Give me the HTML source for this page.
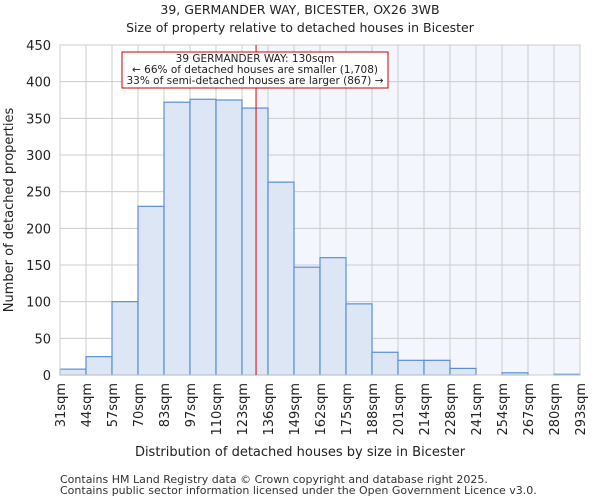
<!DOCTYPE html>
<html><head><meta charset="utf-8"><style>
body{margin:0;background:#fff;font-family:"DejaVu Sans","Liberation Sans",sans-serif;}
</style></head><body>
<svg id="c" width="600" height="500" xmlns="http://www.w3.org/2000/svg" font-family="DejaVu Sans, Liberation Sans, sans-serif">
<text x="300" y="14" text-anchor="middle" font-size="12.5" fill="#222">39, GERMANDER WAY, BICESTER, OX26 3WB</text>
<text x="300" y="32" text-anchor="middle" font-size="12.5" fill="#222">Size of property relative to detached houses in Bicester</text>
<g id="plot"></g>
<text x="300" y="456" text-anchor="middle" font-size="13" fill="#222">Distribution of detached houses by size in Bicester</text>
<text transform="translate(13,210) rotate(-90)" text-anchor="middle" font-size="13" fill="#222">Number of detached properties</text>
<text x="60" y="483" font-size="11" fill="#333">Contains HM Land Registry data © Crown copyright and database right 2025.</text>
<text x="60" y="494" font-size="11" fill="#333">Contains public sector information licensed under the Open Government Licence v3.0.</text>
</svg>
<script>
const binLabels=["31sqm","44sqm","57sqm","70sqm","83sqm","97sqm","110sqm","123sqm","136sqm","149sqm","162sqm","175sqm","188sqm","201sqm","214sqm","228sqm","241sqm","254sqm","267sqm","280sqm","293sqm"];
const counts=[8,25,100,230,372,376,375,364,263,147,160,97,31,20,20,9,0,3,0,1];
const yTicks=[0,50,100,150,200,250,300,350,400,450];
const markerBin=7.54;
const NS="http://www.w3.org/2000/svg";
const L=60,R=580,T=45,B=375,yMax=450;
const n=counts.length,bw=(R-L)/n;
const xs=i=>L+i*bw, ys=v=>B-(v/yMax)*(B-T);
const g=document.getElementById('plot');
function mk(t,a){const e=document.createElementNS(NS,t);for(const k in a)e.setAttribute(k,a[k]);g.appendChild(e);return e;}
const mx=xs(markerBin);
let e=mk('rect',{x:mx,y:T,width:R-mx,height:B-T,fill:'#f3f6fd'});


yTicks.forEach(t=>{let l=mk('line',{x1:L,x2:R,y1:ys(t),y2:ys(t),stroke:'#ccc'});


let tx=mk('text',{x:L-9,y:ys(t)+5,'text-anchor':'end','font-size':13,fill:'#222'});tx.textContent=t;

});
binLabels.forEach((s,i)=>{let l=mk('line',{x1:xs(i),x2:xs(i),y1:T,y2:B,stroke:'#ccc'});


let tx=mk('text',{transform:`translate(${xs(i)+5},${B+8}) rotate(-90)`,'text-anchor':'end','font-size':13,fill:'#222'});tx.textContent=s;

});
counts.forEach((v,i)=>{if(v<=0)return;let r=mk('rect',{x:xs(i),y:ys(v),width:bw,height:B-ys(v),fill:'#dce6f5',stroke:'#5a8fd6','stroke-width':1.2});

});
let ax=mk('rect',{x:L,y:T,width:R-L,height:B-T,fill:'none',stroke:'#ccc'});


let ml=mk('line',{x1:mx,x2:mx,y1:T,y2:B,stroke:'#d00','stroke-width':1});


let bx=mk('rect',{x:122,y:52,width:266,height:36,fill:'#fff',stroke:'#c00'});


["39 GERMANDER WAY: 130sqm","← 66% of detached houses are smaller (1,708)","33% of semi-detached houses are larger (867) →"].forEach((s,i)=>{let t=mk('text',{x:255,y:62+i*11,'text-anchor':'middle','font-size':10.5,fill:'#222'});t.textContent=s;

});
</script>
</body></html>
